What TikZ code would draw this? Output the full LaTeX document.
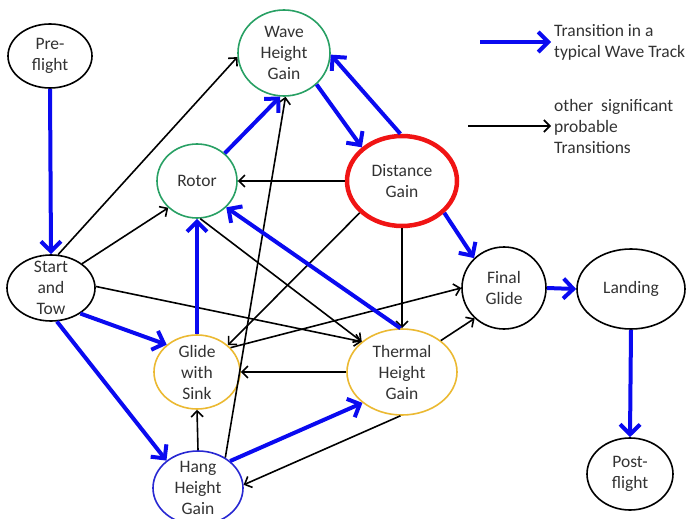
\documentclass[tikz,border=0pt]{standalone}
\usepackage{fontspec}
\setmainfont{Carlito}
\usetikzlibrary{shapes.geometric,arrows.meta}
\definecolor{gblue}{RGB}{10,10,240}
\definecolor{ngreen}{RGB}{40,160,100}
\definecolor{nyellow}{RGB}{235,185,50}
\definecolor{nred}{RGB}{240,20,20}
\definecolor{nhang}{RGB}{40,40,210}
\definecolor{txtc}{RGB}{50,50,50}
\begin{document}
\begin{tikzpicture}[x=1pt,y=-1pt,
  state/.style={ellipse, draw, line width=1.6pt, inner sep=0pt},
  lbl/.style={font=\fontsize{17.5}{21}\selectfont, text=txtc, align=center, inner sep=0pt},
  legtxt/.style={font=\fontsize{17.5}{21}\selectfont, text=txtc, align=left, anchor=west, inner sep=3pt},
  wt/.style={gblue, line width=4pt, -{Straight Barb[length=10pt,width=20pt]}},
  ot/.style={black, line width=1.6pt, -{Straight Barb[length=6pt,width=12pt]}}
]
\useasboundingbox (0,0) rectangle (691,519);
% nodes
\node[state, minimum width=84pt, minimum height=64pt, label={[lbl]center:{Pre-\\flight}}] (pre) at (50,56) {};
\node[state, draw=ngreen, minimum width=92pt, minimum height=86pt, label={[lbl]center:{Wave\\Height\\Gain}}] (wave) at (284,53) {};
\node[state, draw=ngreen, minimum width=80pt, minimum height=74pt, label={[lbl]center:{Rotor}}] (rotor) at (197,181) {};
\node[state, draw=nred, line width=4.5pt, minimum width=110pt, minimum height=90pt, label={[lbl]center:{Distance\\Gain}}] (dist) at (402,181) {};
\node[state, minimum width=88pt, minimum height=66pt, label={[lbl]center:{Start\\and\\Tow}}] (st) at (51,288) {};
\node[state, minimum width=84pt, minimum height=82pt, label={[lbl]center:{Final\\Glide}}] (fg) at (504,288) {};
\node[state, minimum width=108pt, minimum height=80pt, label={[lbl]center:{Landing}}] (land) at (631,289) {};
\node[state, draw=nyellow, minimum width=86pt, minimum height=74pt, label={[lbl]center:{Glide\\with\\Sink}}] (gws) at (197,372) {};
\node[state, draw=nyellow, minimum width=110pt, minimum height=86pt, label={[lbl]center:{Thermal\\Height\\Gain}}] (thg) at (402,372) {};
\node[state, draw=nhang, minimum width=90pt, minimum height=74pt, label={[lbl]center:{Hang\\Height\\Gain}}] (hang) at (198,488) {};
\node[state, minimum width=86pt, minimum height=72pt, label={[lbl]center:{Post-\\flight}}] (post) at (630,474) {};
% legend
\coordinate (la) at (480,42);
\node[legtxt] (lega) at (551,42) {Transition in a\\typical Wave Track};
\coordinate (lb) at (468,126);
\node[legtxt] (legb) at (551,126) {other~ significant\\probable\\Transitions};
\draw[wt] (la) -- (lega.west);
\draw[ot] (lb) -- (legb.west);
% black transitions
\draw[ot] (st.78) -- (wave.185);
\draw[ot] (st.38) -- (rotor.223);
\draw[ot] (st.2) -- (thg.143);
\draw[ot] (dist.180) -- (rotor.0);
\draw[ot] (dist.217) -- (gws.41);
\draw[ot] (dist.270) -- (thg.90);
\draw[ot] (gws.36) -- (fg.180);
\draw[ot] (rotor.275) -- (thg.143);
\draw[ot] (thg.180) -- (gws.0);
\draw[ot] (thg.39) -- (fg.226);
\draw[ot] (thg.268) -- (hang.4);
\draw[ot] (hang.90) -- (gws.270);
\draw[ot] (hang.48) -- (wave.272);
% blue transitions
\draw[wt] (pre.270) -- (st.90);
\draw[wt] (st.319) -- (gws.138);
\draw[wt] (st.280) -- (hang.139);
\draw[wt] (rotor.45) -- (wave.265);
\draw[wt] (wave.316) -- (dist.140);
\draw[wt] (dist.92) -- (wave.358);
\draw[wt] (dist.323) -- (fg.135);
\draw[wt] (thg.92) -- (rotor.318);
\draw[wt] (gws.90) -- (rotor.270);
\draw[wt] (hang.40) -- (thg.218);
\draw[wt] (fg.0) -- (land.180);
\draw[wt] (land.270) -- (post.90);
\end{tikzpicture}
\end{document}
